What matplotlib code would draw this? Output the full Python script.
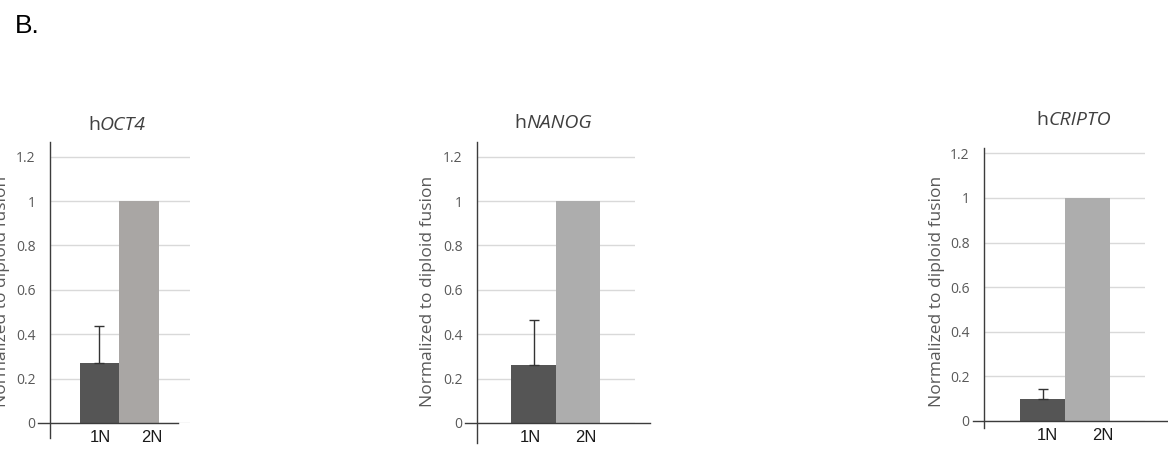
import matplotlib
matplotlib.use("Agg")
import matplotlib.pyplot as plt
import numpy as np

# ---- data ----
categories = ["1N", "2N"]
genes = ["OCT4", "NANOG", "CRIPTO"]
values_1n = [0.27, 0.26, 0.10]
errors_1n = [0.165, 0.205, 0.045]
values_2n = [1.0, 1.0, 1.0]
y_ticks = [0, 0.2, 0.4, 0.6, 0.8, 1.0, 1.2]
y_tick_labels = ["0", "0.2", "0.4", "0.6", "0.8", "1", "1.2"]
ylabel = "Normalized to diploid fusion"

W, H = 1168, 450
fig = plt.figure(figsize=(W / 100, H / 100), dpi=100)
fig.patch.set_facecolor("white")

def px(x0, y_top, x1, y_bot):
    return [x0 / W, 1 - y_bot / H, (x1 - x0) / W, (y_bot - y_top) / H]

# per-panel layout (pixels)
panels = [
    dict(rect=px(50, 142, 190, 423), xlim=(-1.253, 2.291), ytop=1.266,
         vext=-15 / 281, hx=(-12 / 140, 128 / 140), tickx=(0.01, 1.33),
         c2="#a9a6a4", title_xy=(117, 130), ylab_x=2),
    dict(rect=px(477, 142, 635, 423), xlim=(-1.27, 2.28), ytop=1.266,
         vext=-20 / 281, hx=(-12 / 158, 173 / 158), tickx=(-0.08, 1.18),
         c2="#adadad", title_xy=(553, 128), ylab_x=428),
    dict(rect=px(984, 148, 1145, 421), xlim=(-1.31, 2.27), ytop=1.224,
         vext=-7 / 273, hx=(-11 / 161, 183 / 161), tickx=(0.09, 1.33),
         c2="#adadad", title_xy=(1074, 125), ylab_x=937),
]

tick_font = "Open Sans"
axis_color = "#3c3c3c"
text_gray = "#595959"

fig.canvas.draw()
renderer = fig.canvas.get_renderer()

for i, p in enumerate(panels):
    ax = fig.add_axes(p["rect"])
    x = np.arange(len(categories))
    ax.bar(x[0], values_1n[i], width=1.0, color="#555555", zorder=3)
    ax.bar(x[1], values_2n[i], width=1.0, color=p["c2"], zorder=3)
    ax.errorbar(x[0], values_1n[i], yerr=[[0], [errors_1n[i]]], fmt="none",
                ecolor="#333333", elinewidth=1.0, capsize=3.8, capthick=1.0,
                zorder=4)
    ax.set_xlim(*p["xlim"])
    ax.set_ylim(0, p["ytop"])
    for s in ax.spines.values():
        s.set_visible(False)
    ax.set_yticks(y_ticks)
    ax.set_yticklabels(y_tick_labels, fontfamily=tick_font, fontsize=10,
                       color=text_gray)
    ax.tick_params(axis="y", length=0, pad=10.5)
    ax.set_xticks([x[0] + p["tickx"][0], p["tickx"][1]])
    ax.set_xticklabels(categories, fontfamily="Liberation Sans", fontsize=12,
                       color="#1a1a1a")
    ax.tick_params(axis="x", length=0, pad=5)
    ax.yaxis.grid(True, color="#d9d9d9", linewidth=1.0, zorder=0)
    ax.set_axisbelow(True)
    ax.axhline(0, xmin=p["hx"][0], xmax=p["hx"][1], color=axis_color,
               linewidth=1.0, clip_on=False, zorder=5)
    ax.axvline(p["xlim"][0], ymin=p["vext"], ymax=1, color=axis_color,
               linewidth=1.0, clip_on=False, zorder=5)
    # y label
    fig.text(p["ylab_x"] / W, 1 - 291 / H, ylabel, rotation=90,
             ha="center", va="center", fontfamily=tick_font, fontsize=12.5,
             color=text_gray)
    # title: upright "h" + italic gene name, centred as a whole
    tx, ty = p["title_xy"]
    t1 = fig.text(0, 1 - ty / H, "h", ha="left", va="baseline",
                  fontfamily=tick_font, fontsize=14, color="#404040")
    t2 = fig.text(0, 1 - ty / H, genes[i], ha="left", va="baseline",
                  fontfamily=tick_font, fontstyle="italic", fontsize=14,
                  color="#404040")
    w1 = t1.get_window_extent(renderer).width
    w2 = t2.get_window_extent(renderer).width
    start = tx - (w1 + w2) / 2
    t1.set_x(start / W)
    t2.set_x((start + w1) / W)

fig.text(15 / W, 1 - 33 / H, "B.", fontfamily="Liberation Sans", fontsize=19,
         color="black", ha="left", va="baseline")

fig.savefig("out.png", dpi=100)
